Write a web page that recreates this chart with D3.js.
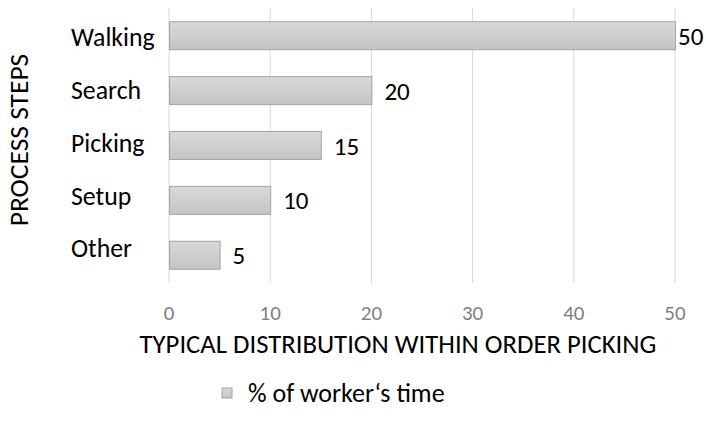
<!DOCTYPE html>
<html>
<head>
<meta charset="utf-8">
<script src="https://cdn.jsdelivr.net/npm/d3@7"></script>
<style>
  body { margin: 0; background: #fff; }
  text { font-family: Carlito, Calibri, Lato, sans-serif; }
</style>
</head>
<body>
<div id="container-svg"></div>
<script>
// Chart data
const categories = ["Walking", "Search", "Picking", "Setup", "Other"]
const values = [50, 20, 15, 10, 5]
const xTicks = [0, 10, 20, 30, 40, 50]
const seriesName = "% of worker\u2018s time"
const xTitle = "TYPICAL DISTRIBUTION WITHIN ORDER PICKING"
const yTitle = "PROCESS STEPS"

const W = 706, H = 429
var margin = { top: 8, right: 31, bottom: 146, left: 169 }
const width = W - margin.left - margin.right
const height = H - margin.top - margin.bottom

// baseline offset that visually centres caps/digits on a y position
const capMid = size => 0.36 * size

const svg = d3.select("div#container-svg")
    .append("svg")
    .attr("width", W)
    .attr("height", H)

// Bar gradient
const grad = svg.append("defs").append("linearGradient")
    .attr("id", "barGrad").attr("x1", 0).attr("y1", 0).attr("x2", 0).attr("y2", 1)
grad.append("stop").attr("offset", "0%").attr("stop-color", "#d9d9d9")
grad.append("stop").attr("offset", "100%").attr("stop-color", "#c4c4c4")

const g = svg.append("g")
    .attr("transform", "translate(" + margin.left + "," + margin.top + ")")

const x = d3.scaleLinear().domain([0, 50]).range([0, width])
const y = d3.scaleBand().domain(categories).range([0, height])
    .paddingInner(0.49).paddingOuter(0.25)
// category labels sit slightly above bar centres, as in the original
const yLabel = d3.scalePoint().domain(categories).range([37, 248])

// Gridlines
g.selectAll("line.grid")
    .data(xTicks)
    .join("line")
    .attr("class", "grid")
    .attr("x1", d => x(d)).attr("x2", d => x(d))
    .attr("y1", 0).attr("y2", height)
    .attr("stroke", "#d9d9d9")
    .attr("stroke-width", 1)

// Tick labels
g.selectAll("text.tick")
    .data(xTicks)
    .join("text")
    .attr("class", "tick")
    .attr("x", d => x(d))
    .attr("y", height + 29 + capMid(21))
    .attr("text-anchor", "middle")
    .attr("fill", "#7f7f7f")
    .style("font-size", "21px")
    .text(d => d)

// Bars
const data = categories.map((c, i) => ({ cat: c, val: values[i] }))
g.selectAll("rect.bar")
    .data(data)
    .join("rect")
    .attr("class", "bar")
    .attr("x", x(0) + 0.5)
    .attr("y", d => y(d.cat))
    .attr("width", d => x(d.val) - x(0))
    .attr("height", y.bandwidth())
    .attr("fill", "url(#barGrad)")
    .attr("stroke", "#a5a5a5")
    .attr("stroke-width", 1)

// Value labels
g.selectAll("text.value")
    .data(data)
    .join("text")
    .attr("class", "value")
    .attr("x", d => Math.min(x(d.val) + 13, width + 3))
    .attr("y", d => y(d.cat) + y.bandwidth() / 2 + capMid(25))
    .attr("fill", "#000")
    .style("font-size", "25px")
    .text(d => d.val)

// Category labels
g.selectAll("text.cat")
    .data(categories)
    .join("text")
    .attr("class", "cat")
    .attr("x", -98)
    .attr("y", d => yLabel(d) - margin.top + capMid(25.8))
    .attr("fill", "#000")
    .style("font-size", "25.8px")
    .text(d => d)

// Axis titles
svg.append("text")
    .attr("transform", "translate(" + (18 + capMid(27.5)) + ",140) rotate(-90)")
    .attr("text-anchor", "middle")
    .attr("fill", "#000")
    .style("font-size", "27.5px")
    .text(yTitle)

svg.append("text")
    .attr("x", 398)
    .attr("y", 343 + capMid(26.7))
    .attr("text-anchor", "middle")
    .attr("fill", "#000")
    .style("font-size", "26.7px")
    .text(xTitle)

// Legend
const legend = svg.append("g").attr("transform", "translate(222,388)")
legend.append("rect")
    .attr("width", 10).attr("height", 10)
    .attr("fill", "url(#barGrad)")
    .attr("stroke", "#a5a5a5")
legend.append("text")
    .attr("x", 26).attr("y", 5 + capMid(26))
    .attr("fill", "#000")
    .style("font-size", "26px")
    .text(seriesName)
</script>
</body>
</html>
